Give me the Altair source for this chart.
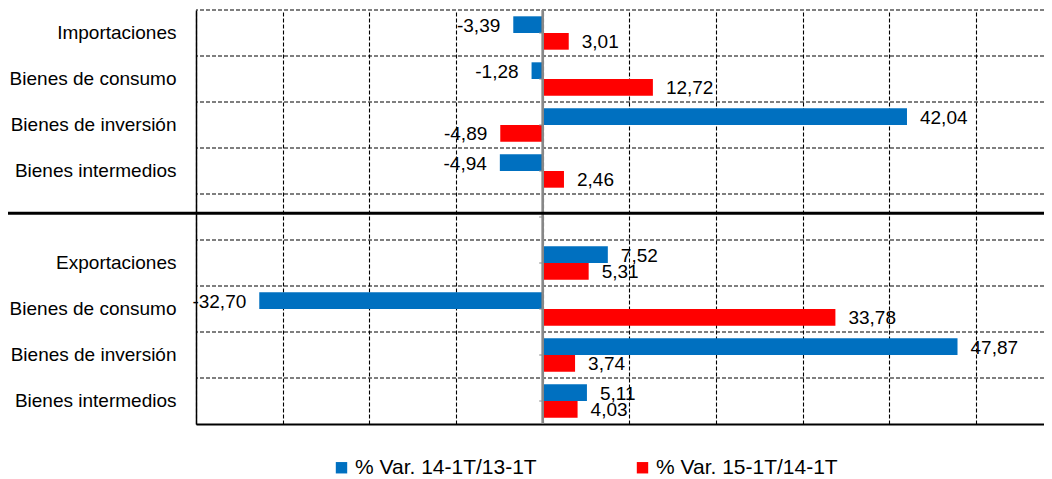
import json
import altair as alt
import pandas as pd

# ---- data ----
categories = ["Importaciones", "Bienes de consumo", "Bienes de inversión", "Bienes intermedios", "",
              "Exportaciones", "Bienes de consumo", "Bienes de inversión", "Bienes intermedios"]
keys = [f"r{i}" for i in range(len(categories))]
series = ["% Var. 14-1T/13-1T", "% Var. 15-1T/14-1T"]
var_14_13 = [-3.39, -1.28, 42.04, -4.94, None, 7.52, -32.70, 47.87, 5.11]
var_15_14 = [3.01, 12.72, -4.89, 2.46, None, 5.31, 33.78, 3.74, 4.03]
colors = ["#0070C0", "#FF0000"]
grid_values = [-40, -30, -20, -10, 0, 10, 20, 30, 40, 50]

rows = []
for k, a, b in zip(keys, var_14_13, var_15_14):
    for s, v in zip(series, [a, b]):
        if v is not None:
            rows.append({"key": k, "series": s, "value": v,
                         "label": f"{v:.2f}".replace(".", ",")})
df = pd.DataFrame(rows)
kdf = pd.DataFrame({"key": keys})
sep_df = pd.DataFrame({"key": [keys[4]]})

FONT = "Liberation Sans"
W, H = 848, 414

label_map = json.dumps(dict(zip(keys, categories)), ensure_ascii=False)

yscale = alt.Scale(domain=keys, paddingInner=0, paddingOuter=0)
yaxis = alt.Axis(title=None, ticks=False, grid=False, labelExpr=f"{label_map}[datum.value]",
                 labelFont=FONT, labelFontSize=19, labelColor="black", labelPadding=20,
                 domainColor="black", domainWidth=1.5)
xscale = alt.Scale(domain=[-40, 57.85], nice=False, zero=False)
xaxis = alt.Axis(title=None, labels=False, ticks=False, grid=True, gridColor="black",
                 gridDash=[4, 2], gridWidth=1.1, gridOpacity=1, values=grid_values,
                 domainColor="black", domainWidth=1.8)
offscale = alt.Scale(domain=series, paddingInner=0, paddingOuter=0.378)


def Y(**kw):
    return alt.Y("key:N", scale=yscale, axis=yaxis, **kw)


hgrid = alt.Chart(kdf).mark_rule(color="black", strokeDash=[4, 2], strokeWidth=1.1).encode(
    y=Y(bandPosition=0)
)

bars = alt.Chart(df).mark_bar().encode(
    x=alt.X("value:Q", scale=xscale, axis=xaxis),
    y=Y(),
    yOffset=alt.YOffset("series:N", scale=offscale),
    color=alt.Color("series:N", scale=alt.Scale(domain=series, range=colors),
                    legend=alt.Legend(title=None, orient="none", legendX=135, legendY=447,
                                      direction="horizontal", symbolType="square",
                                      symbolSize=130, symbolStrokeWidth=0,
                                      labelFont=FONT, labelFontSize=21, labelColor="black",
                                      labelOffset=3, columnPadding=95, padding=0,
                                      labelLimit=0)),
)

neg_text = alt.Chart(df).transform_filter("datum.value < 0").mark_text(
    align="right", baseline="middle", dx=-13, dy=1, font=FONT, fontSize=19, color="black"
).encode(
    x=alt.X("value:Q", scale=xscale, axis=xaxis),
    y=Y(),
    yOffset=alt.YOffset("series:N", scale=offscale),
    text="label:N",
)

pos_text = alt.Chart(df).transform_filter("datum.value >= 0").mark_text(
    align="left", baseline="middle", dx=13, dy=1, font=FONT, fontSize=19, color="black"
).encode(
    x=alt.X("value:Q", scale=xscale, axis=xaxis),
    y=Y(),
    yOffset=alt.YOffset("series:N", scale=offscale),
    text="label:N",
)

zero_line = alt.Chart(kdf).mark_rule(color="#888888", strokeWidth=1.5).encode(
    x=alt.datum(0, scale=xscale, axis=xaxis)
)

zero_ticks = alt.Chart(kdf).mark_rule(color="#888888", strokeWidth=1).encode(
    x=alt.datum(-0.4, scale=xscale, axis=xaxis),
    x2=alt.datum(0),
    y=Y(bandPosition=0.5),
)

separator = alt.Chart(sep_df).mark_rule(color="black", strokeWidth=3).encode(
    x=alt.value(-188),
    x2=alt.value(W),
    y=Y(bandPosition=0.42),
)

chart = alt.layer(hgrid, bars, neg_text, pos_text, zero_line, zero_ticks, separator).properties(
    width=W, height=H, autosize="none",
    padding={"left": 188, "top": 2, "right": 0, "bottom": 55},
).configure_view(stroke=None)

chart.save("out.html", embed_options={"renderer": "svg", "actions": False})
